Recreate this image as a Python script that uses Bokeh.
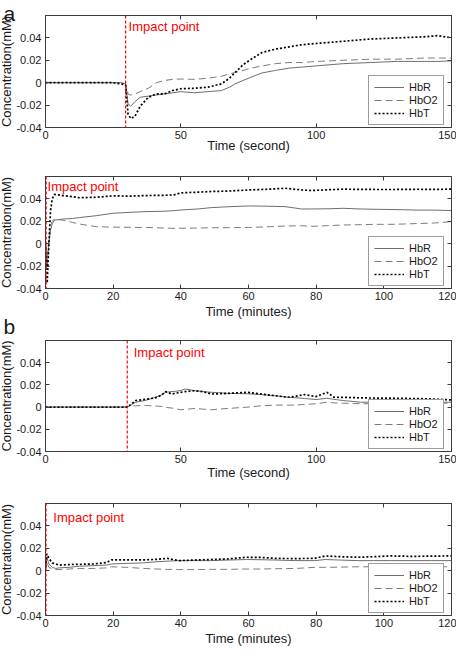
from bokeh.plotting import figure
from bokeh.models import Range1d, FixedTicker, LinearAxis, Span, Label, Legend, LegendItem, Title
from bokeh.layouts import column
from bokeh.embed import file_html
from bokeh.resources import INLINE

# ---------------- data ----------------
# panel a, seconds
t_a_sec = [0, 5, 10, 15, 20, 25, 28, 29.6, 30.5, 31.5, 33, 35, 38, 41, 44, 47, 50, 55, 60, 65,
           68, 70, 73, 76, 80, 85, 90, 95, 100, 110, 120, 130, 140, 145, 150]
hbr_a_sec = [0, 0, 0, 0, 0, 0, 0, -0.001, -0.019, -0.021, -0.017, -0.013, -0.012, -0.011, -0.010,
             -0.009, -0.008, -0.009, -0.008, -0.007, -0.004, -0.001, 0.002, 0.005, 0.0087, 0.011,
             0.013, 0.014, 0.015, 0.017, 0.018, 0.019, 0.019, 0.019, 0.0195]
hbo2_a_sec = [0, 0, 0, 0, 0, 0, 0, -0.001, -0.010, -0.011, -0.010, -0.008, -0.005, 0.0, 0.002,
              0.003, 0.0033, 0.003, 0.004, 0.0057, 0.008, 0.009, 0.011, 0.013, 0.015, 0.017, 0.018,
              0.018, 0.019, 0.020, 0.021, 0.021, 0.022, 0.022, 0.022]
hbt_a_sec = [0, 0, 0, 0, 0, 0, -0.001, -0.002, -0.028, -0.032, -0.030, -0.021, -0.013, -0.010,
             -0.010, -0.007, -0.0054, -0.005, -0.004, -0.001, 0.004, 0.009, 0.016, 0.021, 0.027,
             0.030, 0.032, 0.034, 0.035, 0.037, 0.039, 0.040, 0.041, 0.042, 0.040]

# panel a, minutes
t_a_min = [0, 0.5, 1, 1.5, 2, 2.6, 5, 8, 10, 15, 20, 25, 30, 35, 38, 40, 45, 49, 54, 60, 65,
           70.8, 75.7, 78.6, 84, 88, 93, 98, 103, 110, 115, 120]
hbr_a_min = [0, -0.02, 0.0, 0.012, 0.018, 0.021, 0.022, 0.0225, 0.0233, 0.025, 0.0272, 0.028,
             0.0287, 0.029, 0.0295, 0.0301, 0.031, 0.0322, 0.033, 0.0337, 0.0335, 0.0331, 0.031,
             0.031, 0.0312, 0.0316, 0.031, 0.0307, 0.0305, 0.030, 0.030, 0.0296]
hbo2_a_min = [0, -0.011, 0.005, 0.016, 0.020, 0.022, 0.021, 0.019, 0.0176, 0.0152, 0.0148, 0.0146,
              0.0145, 0.014, 0.0137, 0.0138, 0.014, 0.0142, 0.0143, 0.0145, 0.015, 0.0158, 0.016,
              0.0155, 0.0162, 0.0167, 0.017, 0.0173, 0.0173, 0.018, 0.0185, 0.0197]
hbt_a_min = [0, -0.035, 0.0, 0.030, 0.040, 0.044, 0.043, 0.042, 0.041, 0.0415, 0.0427, 0.0425,
             0.043, 0.0432, 0.0436, 0.0454, 0.046, 0.0466, 0.047, 0.048, 0.0485, 0.0495, 0.048,
             0.0475, 0.0482, 0.0487, 0.0485, 0.0484, 0.0484, 0.0486, 0.0485, 0.0487]

# panel b, seconds
t_b_sec = [0, 10, 20, 29, 30.3, 33.3, 36.9, 40.6, 43, 44.3, 46.7, 47.9, 50, 51.6, 55.3, 58, 61.4,
           64, 67.5, 74.8, 79.7, 85.8, 89.5, 92, 95.6, 100, 104, 106.6, 110, 116.4, 120, 128.6,
           140, 150]
hbr_b_sec = [0, 0, 0, 0, 0, 0.0044, 0.006, 0.0089, 0.011, 0.0133, 0.014, 0.0142, 0.015, 0.0163,
             0.0148, 0.014, 0.0133, 0.013, 0.0124, 0.012, 0.0113, 0.010, 0.0089, 0.0085, 0.0078,
             0.0068, 0.008, 0.007, 0.0059, 0.0044, 0.0044, 0.0044, 0.0044, 0.0044]
hbo2_b_sec = [0, 0, 0, 0, 0.0006, 0.0012, 0.0015, 0.001, 0.0006, -0.0002, -0.0009, -0.0015,
              -0.0024, -0.002, -0.0012, -0.0018, -0.0024, -0.0018, -0.0012, 0.0, 0.0012, 0.0018,
              0.0018, 0.0018, 0.0024, 0.003, 0.0044, 0.0038, 0.0035, 0.003, 0.003, 0.0032,
              0.0034, 0.0036]
hbt_b_sec = [0, 0, 0, 0, 0, 0.0059, 0.007, 0.0083, 0.011, 0.0139, 0.0118, 0.0125, 0.0133, 0.014,
             0.0148, 0.014, 0.0118, 0.012, 0.0124, 0.0133, 0.0118, 0.010, 0.0089, 0.0095, 0.0113,
             0.0095, 0.0133, 0.0089, 0.0088, 0.0083, 0.0082, 0.008, 0.0075, 0.0065]

# panel b, minutes
t_b_min = [0, 0.4, 1, 2, 3, 4, 7, 10, 14, 18, 19.5, 24, 29, 33, 36, 39.4, 44, 48.7, 54, 59.4,
           64, 68, 74, 79.6, 82.7, 87, 92.4, 97, 102, 108, 114, 120]
hbr_b_min = [0.0, 0.012, 0.006, 0.003, 0.002, 0.0025, 0.003, 0.004, 0.0045, 0.005, 0.006, 0.0065,
             0.007, 0.008, 0.0085, 0.009, 0.009, 0.009, 0.0095, 0.010, 0.0098, 0.0095, 0.009,
             0.009, 0.010, 0.0095, 0.009, 0.009, 0.009, 0.009, 0.009, 0.009]
hbo2_b_min = [0.0, 0.008, 0.003, 0.0015, 0.001, 0.001, 0.0015, 0.002, 0.002, 0.0025, 0.0035,
              0.003, 0.002, 0.0015, 0.0012, 0.001, 0.001, 0.0012, 0.0012, 0.0015, 0.0015, 0.0018,
              0.002, 0.003, 0.003, 0.0032, 0.0035, 0.0035, 0.0035, 0.0035, 0.0035, 0.0035]
hbt_b_min = [0.003, 0.015, 0.011, 0.007, 0.006, 0.005, 0.0055, 0.0057, 0.006, 0.0072, 0.0096,
             0.0096, 0.0096, 0.0102, 0.011, 0.009, 0.0095, 0.010, 0.0105, 0.012, 0.0118, 0.011,
             0.0108, 0.011, 0.0132, 0.0125, 0.012, 0.0125, 0.0132, 0.0128, 0.013, 0.0132]

series_names = ["HbR", "HbO2", "HbT"]
y_ticks = [-0.04, -0.02, 0, 0.02, 0.04]
y_tick_labels = ["-0.04", "-0.02", "0", "0.02", "0.04"]
sec_ticks = [0, 50, 100, 150]
min_ticks = [0, 20, 40, 60, 80, 100, 120]

FONT = "Liberation Sans"
AX = "#3c3c3c"
TXT = "#1a1a1a"


def style_axis(ax):
    ax.major_tick_in = 4
    ax.major_tick_out = 0
    ax.minor_tick_line_color = None
    ax.axis_line_color = AX
    ax.major_tick_line_color = AX
    ax.major_label_text_font = FONT
    ax.major_label_text_font_size = "11px"
    ax.major_label_text_color = TXT
    ax.axis_label_text_font = FONT
    ax.axis_label_text_font_size = "13px"
    ax.axis_label_text_font_style = "normal"
    ax.axis_label_text_color = TXT
    ax.major_label_standoff = 4


def panel(t, hbr, hbo2, hbt, xmax, xticks, xlabel, impact, note_x, note_y,
          height, top, bottom, xlab_standoff):
    p = figure(width=460, height=height, x_range=Range1d(0, xmax), y_range=Range1d(-0.04, 0.06),
               output_backend="svg", toolbar_location=None,
               min_border_left=45, min_border_right=5, min_border_top=top,
               min_border_bottom=bottom)
    p.xgrid.visible = False
    p.ygrid.visible = False
    p.outline_line_color = AX
    p.background_fill_color = "white"

    xa = p.xaxis[0]
    ya = p.yaxis[0]
    style_axis(xa)
    style_axis(ya)
    xa.ticker = FixedTicker(ticks=xticks)
    xa.axis_label = xlabel
    xa.major_label_standoff = 3
    xa.axis_label_standoff = xlab_standoff
    ya.ticker = FixedTicker(ticks=y_ticks)
    ya.major_label_overrides = {v: s for v, s in zip(y_ticks, y_tick_labels)}
    ya.axis_label = "Concentration(mM)"
    ya.axis_label_standoff = -1

    xt = LinearAxis(ticker=FixedTicker(ticks=xticks))
    style_axis(xt)
    xt.major_label_overrides = {v: "" for v in xticks}
    xt.major_label_text_font_size = "0px"
    xt.major_label_standoff = 0
    p.add_layout(xt, "above")
    yr = LinearAxis(ticker=FixedTicker(ticks=y_ticks))
    style_axis(yr)
    yr.major_label_overrides = {v: "" for v in y_ticks}
    yr.major_label_text_font_size = "0px"
    yr.major_label_standoff = 0
    p.add_layout(yr, "right")

    r1 = p.line(t, hbr, line_color="#6e6e6e", line_width=1)
    r2 = p.line(t, hbo2, line_color="#7c7c7c", line_width=1, line_dash="7 4")
    r3 = p.line(t, hbt, line_color="black", line_width=1.7, line_dash="2 2")

    p.add_layout(Span(location=impact, dimension="height", line_color="red",
                      line_width=1.2, line_dash="3 2"))
    p.add_layout(Label(x=note_x, y=note_y, text="Impact point", text_color="red",
                       text_font=FONT, text_font_size="13px", text_baseline="middle"))

    leg = Legend(items=[LegendItem(label=series_names[0], renderers=[r1]),
                        LegendItem(label=series_names[1], renderers=[r2]),
                        LegendItem(label=series_names[2], renderers=[r3])],
                 location=(323, 2))
    leg.border_line_color = AX
    leg.border_line_width = 1
    leg.background_fill_color = "white"
    leg.background_fill_alpha = 1
    leg.label_text_font = FONT
    leg.label_text_font_size = "11px"
    leg.label_text_color = TXT
    leg.glyph_width = 30
    leg.glyph_height = 12
    leg.label_height = 12
    leg.label_standoff = 5
    leg.spacing = 1
    leg.padding = 5
    leg.margin = 0
    p.add_layout(leg)
    return p


def tag(text, standoff):
    return Title(text=text, align="left", offset=-42, standoff=standoff,
                 vertical_align="top", text_font=FONT, text_font_size="21px",
                 text_font_style="normal", text_color=TXT)


p1 = panel(t_a_sec, hbr_a_sec, hbo2_a_sec, hbt_a_sec, 150, sec_ticks, "Time (second)",
           29.6, 30.7, 0.0505, height=167, top=23, bottom=32, xlab_standoff=-4)
p1.add_layout(tag("a", -22), "above")

p2 = panel(t_a_min, hbr_a_min, hbo2_a_min, hbt_a_min, 120, min_ticks, "Time (minutes)",
           0.2, 0.6, 0.0514, height=177, top=17, bottom=48, xlab_standoff=1)
p2.add_layout(tag("b", -14), "below")

p3 = panel(t_b_sec, hbr_b_sec, hbo2_b_sec, hbt_b_sec, 150, sec_ticks, "Time (second)",
           30.2, 32.6, 0.049, height=146, top=4, bottom=29, xlab_standoff=-1)

p4 = panel(t_b_min, hbr_b_min, hbo2_b_min, hbt_b_min, 120, min_ticks, "Time (minutes)",
           0.15, 2.3, 0.0478, height=167, top=21, bottom=34, xlab_standoff=1)

layout = column(p1, p2, p3, p4, margin=(-8, 0, -8, -4))

open("out.html", "w").write(file_html(layout, INLINE))
